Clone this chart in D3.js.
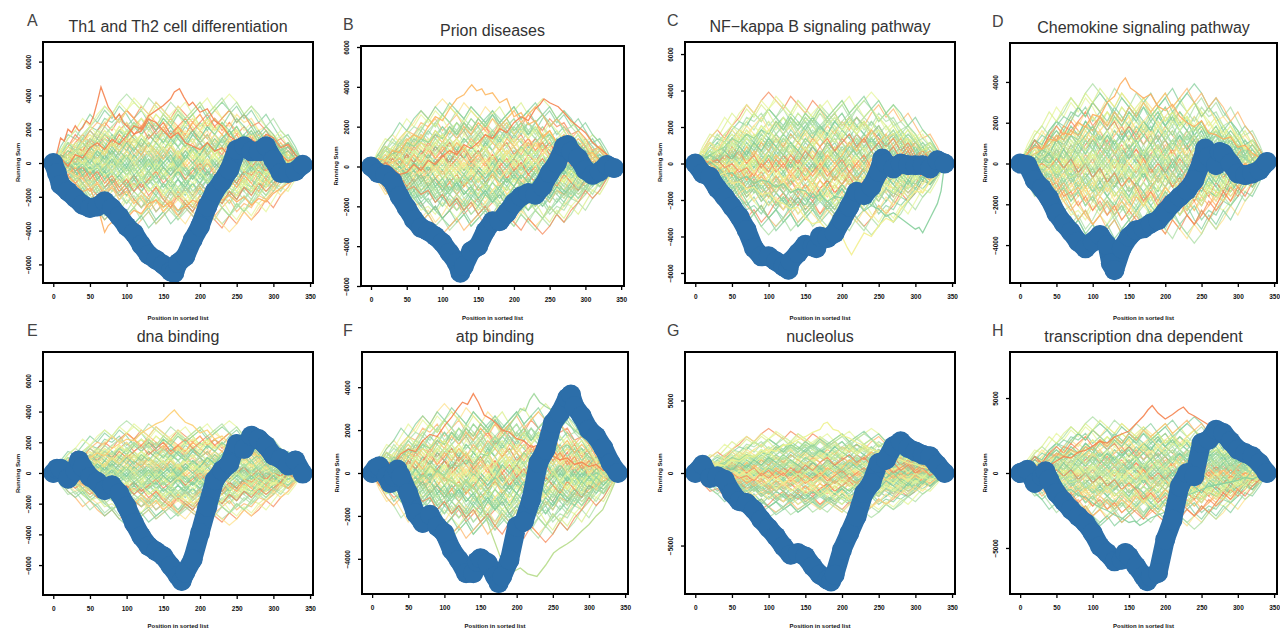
<!DOCTYPE html>
<html>
<head>
<meta charset="utf-8">
<script src="https://cdn.jsdelivr.net/npm/d3@7/dist/d3.min.js"></script>
<style>
  body { margin: 0; background: #fff; }
  svg { display: block; font-family: "Liberation Sans", Arial, sans-serif; }
</style>
</head>
<body>
<svg id="chart" width="1280" height="631"></svg>
<script>
// panel labels
var letters = ['A', 'B', 'C', 'D', 'E', 'F', 'G', 'H'];
var titles = ['Th1 and Th2 cell differentiation', 'Prion diseases', 'NF\u2212kappa B signaling pathway',
  'Chemokine signaling pathway', 'dna binding', 'atp binding', 'nucleolus', 'transcription dna dependent'];
var xTicks = [0, 50, 100, 150, 200, 250, 300, 350];
var yTicks = [
  [-6000, -4000, -2000, 0, 2000, 4000, 6000],
  [-6000, -4000, -2000, 0, 2000, 4000, 6000],
  [-6000, -4000, -2000, 0, 2000, 4000, 6000],
  [-4000, -2000, 0, 2000, 4000],
  [-6000, -4000, -2000, 0, 2000, 4000, 6000],
  [-4000, -2000, 0, 2000, 4000],
  [-5000, 0, 5000],
  [-5000, 0, 5000]
];
var yDomains = [[-7100, 7160], [-6000, 6050], [-6550, 6660], [-5860, 5910],
  [-7950, 7880], [-5640, 5640], [-8340, 8340], [-8070, 8070]];

// observed running sum, [position, value]
var blueA = [[0,0],[5,-590],[10,-1280],[20,-1680],[30,-2070],[40,-2470],[50,-2660],[60,-2570],[70,-2270],[80,-2660],[90,-3160],[100,-3750],[110,-4150],[120,-4840],[130,-5430],[140,-5720],[150,-6020],[160,-6420],[165,-6510],[170,-5920],[180,-5530],[190,-4540],[200,-3750],[210,-2570],[220,-1680],[230,-1090],[240,-390],[250,790],[260,990],[270,690],[280,690],[290,990],[300,200],[310,-590],[320,-590],[330,-490],[340,-100]];
var blueB = [[0,0],[10,-330],[20,-420],[30,-750],[40,-1500],[50,-2080],[60,-2670],[70,-3080],[80,-3250],[90,-3500],[100,-3830],[110,-4330],[120,-4830],[125,-5330],[130,-5000],[140,-4250],[150,-4000],[160,-3250],[170,-2750],[180,-2750],[190,-2330],[200,-1830],[210,-1500],[220,-1330],[230,-1420],[240,-1000],[250,-330],[260,170],[270,1000],[275,1080],[280,750],[290,420],[300,-170],[310,-420],[320,-250],[330,80],[340,-80]];
var blueC = [[0,0],[10,-545],[20,-730],[30,-1360],[40,-1820],[50,-2360],[60,-2910],[70,-3640],[80,-4640],[90,-5090],[100,-5090],[110,-5360],[120,-5640],[127,-5820],[130,-5360],[140,-4910],[150,-4450],[160,-4550],[165,-4640],[170,-4000],[180,-4090],[190,-3820],[200,-3090],[210,-2360],[220,-1550],[230,-1730],[240,-1270],[250,-450],[255,270],[260,0],[270,-270],[280,0],[290,-90],[300,-90],[310,-90],[320,-270],[330,180],[340,0]];
var blueD = [[0,0],[10,-80],[20,-820],[30,-1220],[40,-1710],[50,-2450],[60,-2940],[70,-3350],[80,-3840],[90,-4160],[100,-3840],[110,-3510],[120,-4000],[125,-4900],[130,-5230],[140,-4160],[150,-3590],[160,-3270],[170,-3180],[180,-2940],[190,-2780],[200,-2370],[210,-1960],[220,-1630],[230,-1310],[240,-820],[250,80],[255,730],[260,330],[270,-80],[275,570],[280,490],[290,0],[300,-490],[310,-570],[320,-490],[330,-330],[340,80]];
var blueE = [[0,0],[5,280],[10,280],[20,-370],[30,170],[35,820],[40,390],[50,-260],[60,-580],[70,-1120],[80,-800],[90,-1330],[100,-2190],[110,-3270],[120,-4130],[130,-4770],[140,-5100],[150,-5420],[160,-6060],[170,-6710],[175,-7030],[180,-6490],[190,-5630],[200,-3910],[210,-2190],[220,-470],[230,170],[240,600],[250,1890],[260,1570],[270,2430],[280,2210],[290,1780],[300,1140],[310,920],[320,490],[330,820],[340,-40]];
var blueF = [[0,0],[5,230],[10,310],[20,-160],[25,-470],[30,-160],[35,160],[40,-160],[50,-930],[60,-1870],[70,-2330],[80,-1950],[90,-2490],[100,-2800],[110,-3580],[120,-4050],[130,-4670],[140,-4670],[145,-4120],[150,-3970],[160,-4200],[170,-4820],[175,-5130],[180,-4820],[190,-4050],[200,-2490],[210,-2260],[220,-1240],[230,470],[240,1090],[250,2330],[260,2800],[270,3500],[275,3660],[280,3110],[290,2650],[300,2020],[310,1710],[320,1170],[330,470],[340,0]];
var blueG = [[0,0],[10,570],[20,-340],[30,-230],[40,-460],[50,-1380],[60,-1950],[70,-2070],[80,-2530],[90,-3220],[100,-3790],[110,-4370],[120,-5060],[130,-5630],[140,-5520],[150,-5750],[160,-6440],[170,-7010],[180,-7360],[185,-7470],[190,-7010],[200,-5290],[210,-4140],[220,-2990],[230,-1380],[240,-690],[250,690],[260,920],[270,1840],[280,2180],[290,1720],[300,1490],[310,1260],[320,1150],[330,570],[340,0]];
var blueH = [[0,0],[10,220],[20,-670],[30,-220],[35,110],[40,-440],[50,-1330],[60,-1890],[70,-2440],[80,-2890],[90,-3330],[100,-4000],[110,-4890],[120,-5330],[130,-5890],[140,-5780],[145,-5330],[150,-5550],[160,-6220],[170,-6890],[175,-7220],[180,-6890],[190,-6670],[200,-4440],[210,-3110],[220,-890],[230,0],[240,-220],[250,2000],[260,2220],[270,2890],[280,2670],[290,2110],[300,1560],[310,1330],[320,1110],[330,670],[340,0]];
var blueSums = [blueA, blueB, blueC, blueD, blueE, blueF, blueG, blueH];

// permutation walks, read at every 10th position (one step = bandScale units)
var walkBank = [
  [0,3,5,4,7,9,8,11,10,12,9,11,13,10,8,11,9,7,10,8,6,9,7,5,6,4,6,3,5,2,4,1,3,1,0],
  [0,-2,-4,-3,-6,-5,-8,-7,-9,-11,-8,-10,-7,-9,-6,-8,-5,-7,-4,-6,-3,-5,-2,-4,-1,-3,0,-2,1,-1,1,0,-1,1,0],
  [0,2,1,4,3,6,4,2,5,3,1,4,2,-1,1,-2,0,-3,-1,-4,-2,-5,-3,-6,-4,-2,-5,-3,-1,-3,0,-2,1,-1,0],
  [0,-3,-1,-4,-2,1,-1,2,0,3,5,2,4,7,5,8,6,9,7,10,8,11,9,7,10,8,5,7,4,6,3,4,2,1,0],
  [0,4,7,6,9,12,10,13,11,14,12,9,11,8,10,7,9,6,4,7,5,2,4,1,3,0,2,-1,1,-2,0,-1,1,-1,0],
  [0,-1,-4,-6,-5,-8,-10,-9,-12,-10,-13,-11,-9,-12,-10,-8,-11,-9,-7,-10,-8,-6,-9,-7,-5,-7,-4,-6,-3,-5,-2,-3,-1,-2,0],
  [0,2,4,3,1,3,0,2,-1,1,3,1,4,2,5,3,6,4,7,5,8,6,4,7,5,3,5,2,4,1,3,0,2,1,0],
  [0,-2,0,-3,-5,-3,-6,-4,-2,-5,-3,-1,-4,-2,0,-3,-1,2,0,3,1,-1,2,0,-2,1,-1,-3,0,-2,1,-1,0,-1,0],
  [0,3,2,5,7,5,8,10,8,11,13,11,14,12,15,13,11,14,12,10,12,9,11,8,10,7,9,6,7,4,5,3,2,1,0],
  [0,-3,-5,-4,-7,-9,-7,-10,-12,-10,-13,-15,-13,-11,-14,-12,-10,-12,-9,-11,-8,-10,-7,-9,-6,-8,-5,-6,-4,-5,-2,-3,-1,-2,0],
  [0,1,3,5,3,6,8,6,4,7,5,3,6,4,2,5,3,1,4,2,0,3,1,-1,2,0,-2,1,-1,2,0,1,-1,1,0],
  [0,-2,-1,-3,-1,-4,-2,0,-3,-1,1,-2,0,2,-1,1,3,0,2,4,1,3,0,2,-1,1,-2,0,-3,-1,-2,0,-1,1,0],
  [0,2,5,3,6,4,7,5,3,6,4,1,3,0,2,-1,1,-2,-4,-1,-3,-5,-2,-4,-6,-3,-5,-2,-4,-1,-3,0,-2,-1,0],
  [0,-2,-5,-3,-6,-8,-6,-9,-7,-5,-8,-6,-3,-5,-2,-4,-1,1,-2,0,2,-1,1,3,0,2,-1,1,3,1,2,0,1,-1,0],
  [0,3,6,8,6,9,11,14,12,15,17,15,13,16,14,12,15,13,10,12,9,11,8,10,7,9,6,7,5,6,4,3,2,1,0],
  [0,-3,-6,-8,-11,-9,-12,-14,-12,-15,-13,-16,-14,-12,-15,-13,-11,-13,-10,-12,-9,-11,-8,-10,-7,-8,-6,-7,-5,-6,-4,-3,-2,-1,0],
  [0,1,-1,2,0,3,1,4,2,0,3,1,-2,0,-3,-1,-4,-2,-5,-3,-6,-4,-7,-5,-8,-6,-4,-6,-3,-5,-2,-3,-1,-1,0],
  [0,2,0,3,5,7,5,8,6,9,7,10,8,11,9,12,10,8,11,9,6,8,5,7,4,6,3,5,2,4,1,2,0,1,0],
  [0,-1,-3,-2,-5,-3,-6,-4,-7,-5,-8,-6,-3,-5,-2,0,-2,1,3,1,4,2,5,3,6,4,2,4,1,3,0,2,0,1,0],
  [0,3,1,4,2,5,3,0,2,-1,-3,0,-2,-4,-1,-3,-5,-2,-4,-6,-3,-5,-7,-4,-6,-3,-5,-2,-4,-1,-3,-1,-2,0,0],
  [0,2,4,7,5,8,6,9,12,10,13,11,8,10,7,9,6,8,5,3,5,2,4,1,3,0,2,-1,1,-1,1,0,1,0,0],
  [0,-2,-4,-2,-5,-7,-5,-8,-6,-9,-7,-4,-6,-3,-5,-7,-4,-6,-8,-5,-7,-4,-6,-3,-5,-2,-4,-1,-3,0,-2,-1,0,-1,0],
  [0,1,3,1,4,2,5,7,5,8,6,9,11,9,12,10,7,9,6,8,5,7,4,6,3,5,2,3,1,2,0,1,-1,0,0],
  [0,-1,1,-2,0,-3,-1,-4,-2,-5,-3,-6,-4,-7,-5,-3,-6,-4,-1,-3,0,-2,1,-1,2,0,3,1,2,0,1,-1,0,-1,0]
];
var bandScale = [240, 200, 230, 230, 200, 190, 180, 220];

// stray permutation walks that stand out of the band, [position, value]
var strayA = [
  [[0,0],[5,600],[10,1480],[15,1300],[20,2000],[25,1800],[30,2200],[35,1900],[40,2100],[45,2500],[50,2300],[55,2800],[60,3600],[65,4500],[70,3900],[75,3300],[80,3000],[85,2600],[90,2900],[95,2400],[100,2200],[110,1700],[120,1900],[130,2600],[140,2400],[150,1900],[160,1500],[170,1800],[180,1200],[190,1000],[200,800],[210,1200],[220,700],[230,900],[240,400],[250,600],[260,900],[270,300],[280,600],[290,100],[300,200],[310,500],[320,100],[330,300],[340,0]],
  [[0,0],[10,300],[20,-200],[30,500],[40,300],[50,900],[60,1200],[70,800],[80,1400],[90,1100],[100,1600],[110,2200],[120,2000],[130,2800],[140,3100],[150,3400],[160,3800],[165,4200],[172,4400],[178,3900],[185,3400],[190,3600],[200,3000],[210,3200],[220,2500],[230,2200],[240,1600],[250,1300],[260,1000],[270,1400],[280,1100],[290,1700],[300,1500],[310,900],[320,1100],[330,500],[340,0]],
  [[0,0],[10,-500],[20,-800],[30,-1200],[40,-1700],[50,-1500],[60,-2500],[65,-3300],[70,-4100],[75,-3700],[85,-3300],[95,-3500],[110,-2800],[120,-3000],[130,-2400],[140,-2200],[150,-2600],[160,-2300],[170,-2800],[180,-2600],[190,-2200],[200,-2400],[210,-1900],[220,-1800],[230,-2200],[240,-1900],[250,-2300],[260,-2000],[270,-2500],[280,-2100],[290,-2300],[300,-1800],[310,-1500],[320,-1200],[330,-700],[340,0]]
];
var strayB = [
  [[0,0],[10,400],[20,300],[30,800],[40,700],[50,1300],[60,1600],[70,1400],[80,2000],[90,2500],[100,2300],[110,2900],[120,3400],[130,3600],[136,3900],[141,4100],[148,3800],[155,3900],[160,3600],[170,3700],[180,3200],[190,3400],[200,2500],[210,2700],[220,2100],[230,2300],[240,1500],[250,1800],[260,1200],[270,1300],[280,800],[290,1100],[300,600],[310,700],[320,300],[330,400],[340,0]],
  [[0,0],[10,-200],[20,200],[30,-100],[40,-400],[50,-300],[60,100],[70,-200],[80,300],[90,100],[100,500],[110,800],[120,600],[130,1100],[140,900],[150,1200],[160,1600],[170,1400],[180,1900],[190,1700],[200,2200],[210,2500],[220,2300],[230,2900],[236,3100],[242,3400],[250,3200],[256,3100],[262,3000],[270,2700],[280,2300],[290,2000],[300,1700],[310,1200],[320,900],[330,600],[340,0]]
];
var strayC = [
  [[0,0],[10,-300],[20,100],[30,-200],[40,-600],[50,-500],[60,-900],[70,-700],[80,-1100],[90,-900],[100,-1000],[110,-1300],[120,-1100],[130,-1600],[140,-1400],[150,-1500],[160,-1900],[170,-1700],[180,-2100],[190,-1800],[200,-1900],[210,-2300],[220,-2100],[230,-2600],[240,-2300],[250,-2500],[260,-2900],[270,-2700],[280,-3000],[290,-3300],[300,-3600],[305,-3500],[310,-3800],[315,-3400],[320,-3000],[330,-2200],[335,-1500],[340,0]],
  [[0,0],[10,-400],[20,-200],[30,-700],[40,-500],[50,-1100],[60,-1000],[70,-1400],[80,-1300],[90,-1700],[100,-1600],[110,-2000],[120,-2200],[130,-2500],[140,-2400],[150,-3000],[160,-3300],[170,-3200],[180,-3700],[190,-4200],[200,-4000],[207,-4600],[213,-5000],[220,-4500],[230,-3800],[240,-4000],[250,-3400],[260,-3000],[270,-3200],[280,-2500],[290,-2000],[300,-1500],[310,-1600],[320,-1000],[330,-600],[340,0]]
];
var strayD = [
  [[0,0],[10,500],[20,800],[30,700],[40,1200],[50,1100],[60,1500],[70,1400],[80,2000],[90,1800],[100,2400],[110,2300],[120,3000],[130,3300],[138,3900],[145,4200],[152,3700],[160,3500],[170,3200],[180,3400],[190,2800],[200,2600],[210,2900],[220,2300],[230,2000],[240,1800],[250,2100],[260,1500],[270,1400],[280,1200],[290,1300],[300,800],[310,900],[320,500],[330,300],[340,0]]
];
var strayE = [
  [[0,0],[10,400],[20,300],[30,700],[40,600],[50,1000],[60,1300],[70,1100],[80,1600],[90,1900],[100,2200],[110,2100],[120,2600],[130,2900],[140,3200],[150,3400],[158,3800],[165,4100],[172,3700],[180,3300],[190,3100],[200,2600],[210,2800],[220,2200],[230,2400],[240,1900],[250,1700],[260,1500],[270,1400],[280,1100],[290,1200],[300,800],[310,600],[320,700],[330,300],[340,0]]
];
var strayF = [
  [[0,0],[10,-200],[20,-300],[30,100],[40,200],[50,-100],[60,-500],[70,-200],[80,300],[90,100],[100,-200],[110,-400],[120,-600],[130,-300],[140,-700],[146,-930],[155,-1800],[165,-2800],[175,-3700],[187,-4820],[195,-4600],[205,-4430],[215,-4700],[228,-4820],[240,-4300],[251,-3730],[260,-3500],[270,-3300],[278,-3110],[290,-2700],[300,-2400],[310,-2000],[319,-1710],[330,-900],[340,-100]],
  [[0,0],[10,-300],[20,-100],[30,-500],[40,-300],[50,-600],[60,-400],[70,-100],[80,-300],[90,100],[100,-100],[110,400],[120,300],[130,600],[140,400],[150,900],[160,800],[170,1400],[180,1700],[190,2200],[198,2600],[205,3000],[212,2900],[218,3400],[224,3700],[232,3300],[240,3100],[250,2900],[260,2600],[270,2300],[280,2000],[290,1700],[300,1400],[310,1000],[320,800],[330,500],[340,0]],
  [[0,0],[10,300],[20,500],[30,400],[40,900],[50,1100],[60,1000],[70,1500],[80,1800],[90,1700],[100,2200],[110,2600],[118,3000],[125,3300],[132,3200],[140,3700],[147,3300],[155,2700],[165,2500],[175,2200],[180,2000],[190,1900],[200,1600],[210,1500],[220,1200],[230,1300],[240,900],[250,800],[260,600],[270,700],[280,400],[290,500],[300,300],[310,400],[320,100],[330,200],[340,0]]
];
var strayG = [
  [[0,0],[10,300],[20,200],[30,600],[40,500],[50,900],[60,800],[70,1200],[80,1100],[90,1400],[100,1600],[110,1500],[120,1900],[130,2000],[140,2300],[150,2500],[160,2800],[170,3000],[175,3400],[180,3500],[188,3000],[195,2900],[200,2600],[210,2400],[220,2100],[230,1900],[240,1600],[250,1500],[260,1200],[270,1100],[280,900],[290,700],[300,600],[310,400],[320,300],[330,200],[340,0]]
];
var strayH = [
  [[0,0],[10,300],[20,200],[30,600],[40,500],[50,800],[60,1100],[70,1000],[80,1400],[90,1500],[100,1800],[110,2100],[120,2000],[130,2400],[140,2600],[150,2800],[160,3300],[170,3800],[176,4200],[182,4500],[190,4000],[200,3600],[210,3900],[218,4200],[225,4400],[232,4000],[240,3800],[250,3500],[260,3200],[270,2800],[280,2500],[290,2100],[300,1700],[310,1200],[320,900],[330,500],[340,0]],
  [[0,0],[10,-300],[20,-200],[30,-600],[40,-500],[50,-900],[60,-1200],[70,-1100],[80,-1500],[90,-1600],[100,-2000],[110,-2300],[120,-2500],[130,-2800],[140,-3000],[150,-3300],[158,-3200],[165,-3500],[172,-3300],[180,-3000],[190,-2800],[200,-2600],[210,-2200],[220,-1900],[230,-1500],[240,-1300],[250,-1100],[260,-900],[270,-800],[280,-700],[290,-600],[300,-500],[310,-300],[320,-400],[330,-200],[340,0]]
];
var strays = [strayA, strayB, strayC, strayD, strayE, strayF, strayG, strayH];
var strayColors = [
  ['#f5834f', '#f5834f', '#fdae61'], ['#fdb863', '#f5834f'], ['#86cf9c', '#f3ef8f'], ['#fdae61'],
  ['#fdcf72'], ['#b6dc8a', '#9fd79a', '#f5834f'], ['#eef28e'], ['#f5834f', '#86cf9c']
];

var palette = ['#86cf9c', '#e6f598', '#abdda4', '#fdb56a', '#86cf9c', '#fee08b',
  '#abdda4', '#e6f598', '#f6885a', '#86cf9c', '#d9ef8b', '#abdda4'];

// panel boxes on the page
var boxes = [
  {l: 43, r: 313, t: 42, b: 283, lx: 27, xl: 37},
  {l: 361, r: 624, t: 46, b: 286, lx: 343, xl: 34},
  {l: 685, r: 955, t: 42, b: 283, lx: 667, xl: 37},
  {l: 1010, r: 1277, t: 43, b: 283, lx: 992, xl: 37},
  {l: 43, r: 313, t: 352, b: 595, lx: 27, xl: 33},
  {l: 362, r: 628, t: 352, b: 594, lx: 343, xl: 34},
  {l: 685, r: 955, t: 352, b: 594, lx: 667, xl: 34},
  {l: 1010, r: 1277, t: 352, b: 594, lx: 992, xl: 34}
];

var svg = d3.select('#chart');
var blue = '#2c6ea9';

boxes.forEach(function (box, p) {
  var x = d3.scaleLinear().domain([-14, 354]).range([box.l, box.r]);
  var y = d3.scaleLinear().domain(yDomains[p]).range([box.b, box.t]);
  var g = svg.append('g');

  g.append('clipPath').attr('id', 'clip' + p)
    .append('rect')
    .attr('x', box.l).attr('y', box.t)
    .attr('width', box.r - box.l).attr('height', box.b - box.t);

  var plot = g.append('g').attr('clip-path', 'url(#clip' + p + ')');

  // background walks: each bank walk as read, backwards, mirrored and both
  var walkLine = d3.line()
    .x(function (d, i, arr) { return x(i * 340 / (arr.length - 1)); })
    .y(function (d) { return y(d * bandScale[p]); });
  var variants = [
    function (w) { return w; },
    function (w) { return w.slice().reverse(); },
    function (w) { return w.map(function (v) { return -v; }); },
    function (w) { return w.slice().reverse().map(function (v) { return -v; }); }
  ];
  variants.forEach(function (fn, k) {
    walkBank.forEach(function (w, j) {
      plot.append('path')
        .attr('d', walkLine(fn(w)))
        .attr('fill', 'none')
        .attr('stroke', palette[(j + k * 5 + p * 3) % palette.length])
        .attr('stroke-width', 1.2)
        .attr('stroke-opacity', 0.75);
    });
  });

  var pairLine = d3.line()
    .x(function (d) { return x(d[0]); })
    .y(function (d) { return y(d[1]); });

  strays[p].forEach(function (s, j) {
    plot.append('path')
      .attr('d', pairLine(s))
      .attr('fill', 'none')
      .attr('stroke', strayColors[p][j])
      .attr('stroke-width', 1.3)
      .attr('stroke-opacity', 0.9);
  });

  // observed running sum, thick blue
  plot.append('path')
    .attr('d', pairLine(blueSums[p]))
    .attr('fill', 'none')
    .attr('stroke', blue)
    .attr('stroke-width', 19)
    .attr('stroke-linecap', 'round')
    .attr('stroke-linejoin', 'round');
  plot.selectAll('circle.pt')
    .data(blueSums[p])
    .enter().append('circle')
    .attr('class', 'pt')
    .attr('cx', function (d) { return x(d[0]); })
    .attr('cy', function (d) { return y(d[1]); })
    .attr('r', 10)
    .attr('fill', blue);

  // box
  g.append('rect')
    .attr('x', box.l).attr('y', box.t)
    .attr('width', box.r - box.l).attr('height', box.b - box.t)
    .attr('fill', 'none')
    .attr('stroke', '#000')
    .attr('stroke-width', 2);

  // axes
  var xAxis = g.append('g')
    .attr('transform', 'translate(0,' + box.b + ')')
    .call(d3.axisBottom(x).tickValues(xTicks).tickSize(4).tickSizeOuter(0));
  var yAxis = g.append('g')
    .attr('transform', 'translate(' + box.l + ',0)')
    .call(d3.axisLeft(y).tickValues(yTicks[p]).tickSize(4).tickSizeOuter(0).tickFormat(d3.format('d')));

  [xAxis, yAxis].forEach(function (a) {
    a.select('.domain').remove();
    a.selectAll('line').attr('stroke', '#000').attr('stroke-width', 1.3);
    a.selectAll('text')
      .attr('fill', '#111')
      .style('font-size', '6.5px')
      .style('font-weight', 'bold')
      .style('font-family', '"Liberation Sans", Arial, sans-serif');
  });
  xAxis.selectAll('text').attr('y', 11.5);
  yAxis.selectAll('text')
    .attr('x', 0).attr('dy', 0)
    .attr('text-anchor', 'middle')
    .attr('transform', 'translate(-12.5,0) rotate(-90)');

  // axis titles
  g.append('text')
    .attr('x', (box.l + box.r) / 2).attr('y', box.b + box.xl)
    .attr('text-anchor', 'middle')
    .style('font-size', '6px')
    .style('font-weight', 'bold')
    .attr('fill', '#111')
    .text('Position in sorted list');
  g.append('text')
    .attr('transform', 'translate(' + (box.l - 23) + ',' + ((box.t + box.b) / 2) + ') rotate(-90)')
    .attr('text-anchor', 'middle')
    .style('font-size', '6px')
    .style('font-weight', 'bold')
    .attr('fill', '#111')
    .text('Running Sum');

  // title and panel letter
  g.append('text')
    .attr('x', (box.l + box.r) / 2).attr('y', box.t - 10)
    .attr('text-anchor', 'middle')
    .style('font-size', '16px')
    .attr('fill', '#333')
    .text(titles[p]);
  g.append('text')
    .attr('x', box.lx).attr('y', box.t - 16)
    .style('font-size', '16px')
    .attr('fill', '#444')
    .text(letters[p]);
});
</script>
</body>
</html>
